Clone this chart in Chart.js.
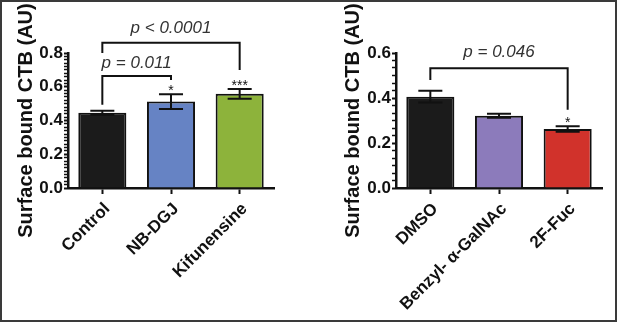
<!DOCTYPE html>
<html>
<head>
<meta charset="utf-8">
<script src="https://cdn.jsdelivr.net/npm/chart.js@4/dist/chart.umd.min.js"></script>
<style>
  html, body { margin: 0; padding: 0; background: #fff; }
  #wrap { position: relative; width: 617px; height: 322px; overflow: hidden; }
  #wrap canvas { position: absolute; top: 0; }
  #frame { position: absolute; left: 0; top: 0; width: 617px; height: 322px; box-sizing: border-box;
           border: 2px solid #3a3a3a; pointer-events: none; }
</style>
</head>
<body>
<div id="wrap">
  <canvas id="left" width="310" height="322" style="left:0"></canvas>
  <canvas id="right" width="307" height="322" style="left:310px"></canvas>
  <div id="frame"></div>
</div>
<script>
// left panel
var leftLabels = ['Control', 'NB-DGJ', 'Kifunensine'];
var leftMeans = [0.446, 0.512, 0.558];
var leftSem = [0.012, 0.044, 0.029];
var leftStars = ['', '*', '***'];
var leftColors = ['#1b1b1b', '#6683c4', '#8db33b'];

// right panel
var rightLabels = ['DMSO', 'Benzyl- \u03b1-GalNAc', '2F-Fuc'];
var rightMeans = [0.406, 0.321, 0.262];
var rightSem = [0.026, 0.009, 0.012];
var rightStars = ['', '', '*'];
var rightColors = ['#1b1b1b', '#8c7bbb', '#d1322b'];

var yTitle = 'Surface bound CTB (AU)';
var FONT = '"Liberation Sans", Arial, Helvetica, sans-serif';

// significance brackets (category indexes, heights in axis units)
var leftBrackets = [
  {from: 0, to: 2, top: 0.861, legA: 0.80, legB: 0.70, text: 'p < 0.0001', textY: 0.945},
  {from: 0, to: 1, top: 0.664, legA: 0.493, legB: 0.640, text: 'p = 0.011', textY: 0.742}
];
var rightBrackets = [
  {from: 0, to: 2, top: 0.532, legA: 0.480, legB: 0.348, text: 'p = 0.046', textY: 0.604}
];

function isMajor(v) {
  var r = v / 0.2;
  return Math.abs(r - Math.round(r)) < 1e-6;
}

var extras = {
  id: 'extras',
  afterDatasetsDraw: function(chart) {
    var o = chart.options.plugins.extras;
    var ctx = chart.ctx;
    var y = chart.scales.y;
    var meta = chart.getDatasetMeta(0);
    ctx.save();
    ctx.strokeStyle = '#111';
    ctx.fillStyle = '#111';
    ctx.lineWidth = 2;
    meta.data.forEach(function(bar, i) {
      var yt = y.getPixelForValue(o.means[i] + o.sem[i]);
      var yb = y.getPixelForValue(o.means[i] - o.sem[i]);
      var hw = bar.width * 0.25;
      ctx.beginPath();
      ctx.moveTo(bar.x, yt); ctx.lineTo(bar.x, yb);
      ctx.moveTo(bar.x - hw, yt); ctx.lineTo(bar.x + hw, yt);
      ctx.moveTo(bar.x - hw, yb); ctx.lineTo(bar.x + hw, yb);
      ctx.stroke();
      if (o.stars[i]) {
        ctx.font = '14px ' + FONT;
        ctx.textAlign = 'center';
        ctx.textBaseline = 'alphabetic';
        ctx.fillText(o.stars[i], bar.x, yt + 1);
      }
    });
    o.brackets.forEach(function(b) {
      var xa = meta.data[b.from].x, xb = meta.data[b.to].x;
      var yTop = y.getPixelForValue(b.top);
      ctx.beginPath();
      ctx.moveTo(xa, y.getPixelForValue(b.legA));
      ctx.lineTo(xa, yTop);
      ctx.lineTo(xb, yTop);
      ctx.lineTo(xb, y.getPixelForValue(b.legB));
      ctx.stroke();
      ctx.font = 'italic 17px ' + FONT;
      ctx.fillStyle = '#333';
      ctx.textAlign = 'center';
      ctx.textBaseline = 'middle';
      ctx.fillText(b.text, (xa + xb) / 2, y.getPixelForValue(b.textY));
      ctx.fillStyle = '#111';
    });
    ctx.restore();
  }
};

function makeChart(id, labels, means, sem, stars, colors, brackets, yMax, minorStep, yWidth, titlePad, padRight) {
  return new Chart(document.getElementById(id), {
    type: 'bar',
    data: {
      labels: labels,
      datasets: [{
        data: means,
        backgroundColor: colors,
        borderColor: '#111',
        borderWidth: 2,
        barPercentage: 0.7,
        categoryPercentage: 1
      }]
    },
    plugins: [extras],
    options: {
      responsive: false,
      animation: false,
      devicePixelRatio: 1,
      layout: {padding: {top: 53, right: padRight, left: 0, bottom: 0}},
      plugins: {
        legend: {display: false},
        tooltip: {enabled: false},
        extras: {means: means, sem: sem, stars: stars, brackets: brackets}
      },
      scales: {
        x: {
          offset: true,
          afterFit: function(s) { s.height = 134; },
          border: {color: '#111', width: 2.5},
          grid: {offset: false, drawOnChartArea: false, tickLength: 6, tickWidth: 2, tickColor: '#111'},
          ticks: {
            color: '#111', maxRotation: 45, minRotation: 45, autoSkip: false, padding: 5, labelOffset: 5,
            font: {family: FONT, size: 17, weight: 'bold'}
          }
        },
        y: {
          min: 0, max: yMax,
          afterFit: function(s) { s.width = yWidth; },
          border: {color: '#111', width: 2.5},
          grid: {
            drawOnChartArea: false, tickLength: 4, tickColor: '#111',
            tickWidth: function(c) { return isMajor(c.tick.value) ? 2 : 1.5; }
          },
          ticks: {
            stepSize: minorStep, autoSkip: false, color: '#111', padding: 1,
            font: {family: FONT, size: 17, weight: 'bold'},
            callback: function(v) { return isMajor(v) ? v.toFixed(1) : ''; }
          },
          title: {
            display: true, text: yTitle, color: '#111',
            font: {family: FONT, size: 20, weight: 'bold'},
            padding: {top: titlePad, bottom: 0}
          }
        }
      }
    }
  });
}

makeChart('left', leftLabels, leftMeans, leftSem, leftStars, leftColors, leftBrackets, 0.8, 0.02, 68, 14, 36);
makeChart('right', rightLabels, rightMeans, rightSem, rightStars, rightColors, rightBrackets, 0.6, 0.2 / 6, 86, 31, 15);
</script>
</body>
</html>
